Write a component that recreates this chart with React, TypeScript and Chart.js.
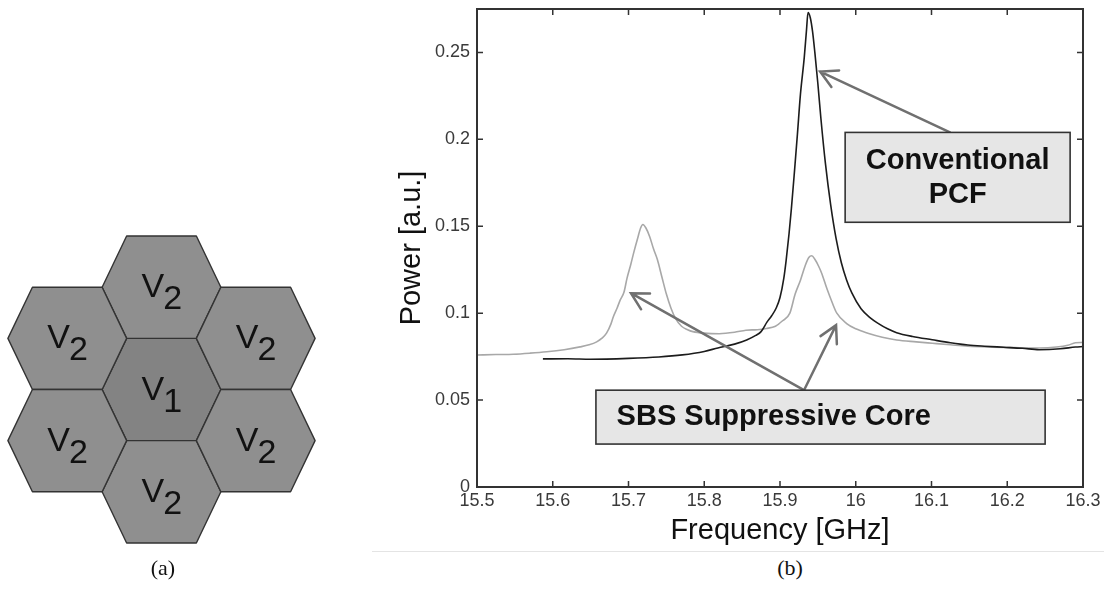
import React, { useEffect, useRef } from 'react';
import { Chart, registerables } from 'chart.js';

Chart.register(...registerables);

// ---------- data: panel (b) spectra ----------
const freqConventional = [
  15.587, 15.62, 15.65, 15.7, 15.74, 15.771, 15.8, 15.818, 15.84, 15.856, 15.868, 15.875,
  15.883, 15.889, 15.895, 15.9, 15.905, 15.908, 15.912, 15.915, 15.919, 15.923, 15.927,
  15.932, 15.935, 15.937, 15.94, 15.943, 15.946, 15.95, 15.954, 15.96, 15.967, 15.974,
  15.981, 15.988, 15.995, 16.007, 16.02, 16.03, 16.042, 16.054, 16.075, 16.101, 16.125,
  16.148, 16.17, 16.195, 16.22, 16.242, 16.27, 16.29, 16.3,
];
const powerConventional = [
  0.0737, 0.0738, 0.0735, 0.074, 0.0748, 0.076, 0.078, 0.08, 0.0822, 0.0846, 0.0872, 0.0894,
  0.095, 0.0985, 0.103, 0.109, 0.12, 0.13, 0.146, 0.16, 0.181, 0.203, 0.226,
  0.247, 0.263, 0.273, 0.27, 0.262, 0.25, 0.232, 0.212, 0.186, 0.162, 0.143,
  0.129, 0.119, 0.1115, 0.1025, 0.097, 0.094, 0.091, 0.0888, 0.0866, 0.0847, 0.083,
  0.0817, 0.081, 0.0804, 0.0798, 0.079, 0.0795, 0.0805, 0.0808,
];
const freqSuppressive = [
  15.5, 15.525, 15.548, 15.57, 15.592, 15.615, 15.636, 15.648, 15.658, 15.665, 15.671,
  15.677, 15.68, 15.685, 15.689, 15.694, 15.698, 15.703, 15.707, 15.712, 15.716, 15.719,
  15.723, 15.728, 15.733, 15.738, 15.744, 15.75, 15.756, 15.762, 15.77, 15.778, 15.785,
  15.8, 15.82, 15.84, 15.855, 15.87, 15.882, 15.894, 15.903, 15.913, 15.92, 15.927,
  15.933, 15.938, 15.942, 15.946, 15.951, 15.955, 15.962, 15.969, 15.975, 15.988, 16.0,
  16.016, 16.035, 16.054, 16.08, 16.101, 16.125, 16.148, 16.18, 16.21, 16.242, 16.265,
  16.28, 16.29, 16.3,
];
const powerSuppressive = [
  0.0759, 0.0762, 0.0764, 0.077, 0.0778, 0.079, 0.0806, 0.0818, 0.0835, 0.0856, 0.0885,
  0.094, 0.098, 0.103, 0.1075, 0.112, 0.12, 0.128, 0.135, 0.143, 0.149, 0.151,
  0.149, 0.144, 0.137, 0.131, 0.121, 0.111, 0.103, 0.097, 0.0925, 0.0905, 0.0894,
  0.0885, 0.0882, 0.089, 0.0902, 0.0905, 0.0912, 0.0925, 0.0955, 0.1, 0.111, 0.119,
  0.127, 0.132, 0.133, 0.131, 0.127, 0.123, 0.114, 0.106, 0.1, 0.094, 0.091,
  0.0885, 0.0862, 0.0846, 0.0835, 0.0827, 0.0818, 0.081, 0.0805, 0.0802, 0.08, 0.0805,
  0.0815, 0.083, 0.0832,
];
const frequencyTicks = [15.5, 15.6, 15.7, 15.8, 15.9, 16.0, 16.1, 16.2, 16.3];
const powerTicks = [0, 0.05, 0.1, 0.15, 0.2, 0.25];

// ---------- data: panel (a) hexagonal cells ----------
const hexColumn = [0, 0, 0, -1, -1, 1, 1];
const hexRow = [0, 1, -1, 0.5, -0.5, 0.5, -0.5];
const hexSymbol = ['V', 'V', 'V', 'V', 'V', 'V', 'V'];
const hexIndex = ['1', '2', '2', '2', '2', '2', '2'];

// ---------- annotations (data units) ----------
const conventionalBox = { x0: 15.986, x1: 16.283, y0: 0.1523, y1: 0.204 };
const conventionalText = ['Conventional', 'PCF'];
const conventionalTextY = [0.1874, 0.1678];
const conventionalArrow = { x0: 16.1244, y0: 0.204, x1: 15.953, y1: 0.239 };
const suppressiveBox = { x0: 15.657, x1: 16.25, y0: 0.0247, y1: 0.0557 };
const suppressiveText = 'SBS Suppressive Core';
const suppressiveTextPos = { x: 15.6843, y: 0.0402 };
const suppressiveArrows = [
  { x0: 15.9317, y0: 0.0557, x1: 15.7033, y1: 0.1115 },
  { x0: 15.9317, y0: 0.0557, x1: 15.974, y1: 0.0931 },
];

const SANS = '"Liberation Sans", Arial, Helvetica, sans-serif';
const SERIF = '"Liberation Serif", "Times New Roman", Times, serif';

function drawArrow(ctx: CanvasRenderingContext2D, x0: number, y0: number, x1: number, y1: number) {
  const ang = Math.atan2(y1 - y0, x1 - x0);
  const L = 19;
  const spread = 0.5;
  ctx.beginPath();
  ctx.moveTo(x0, y0);
  ctx.lineTo(x1, y1);
  ctx.moveTo(x1 - L * Math.cos(ang - spread), y1 - L * Math.sin(ang - spread));
  ctx.lineTo(x1, y1);
  ctx.lineTo(x1 - L * Math.cos(ang + spread), y1 - L * Math.sin(ang + spread));
  ctx.stroke();
}

const framePlugin = {
  id: 'matlabFrame',
  afterDatasetsDraw(chart: any) {
    const { ctx, chartArea: a } = chart;
    const x = chart.scales.x;
    const y = chart.scales.y;
    ctx.save();
    ctx.strokeStyle = '#333';
    ctx.lineWidth = 1.5;
    ctx.beginPath();
    frequencyTicks.forEach((v) => {
      const px = x.getPixelForValue(v);
      ctx.moveTo(px, a.bottom);
      ctx.lineTo(px, a.bottom - 6);
      ctx.moveTo(px, a.top);
      ctx.lineTo(px, a.top + 6);
    });
    powerTicks.forEach((v) => {
      const py = y.getPixelForValue(v);
      ctx.moveTo(a.left, py);
      ctx.lineTo(a.left + 6, py);
      ctx.moveTo(a.right, py);
      ctx.lineTo(a.right - 6, py);
    });
    ctx.stroke();
    ctx.lineWidth = 2;
    ctx.strokeRect(a.left, a.top, a.right - a.left, a.bottom - a.top);

    ctx.strokeStyle = '#707070';
    ctx.lineWidth = 2.5;
    ctx.lineCap = 'round';
    [conventionalArrow, ...suppressiveArrows].forEach((ar) => {
      drawArrow(
        ctx,
        x.getPixelForValue(ar.x0), y.getPixelForValue(ar.y0),
        x.getPixelForValue(ar.x1), y.getPixelForValue(ar.y1),
      );
    });

    const drawBox = (b: any) => {
      const l = x.getPixelForValue(b.x0);
      const r = x.getPixelForValue(b.x1);
      const t = y.getPixelForValue(b.y1);
      const bt = y.getPixelForValue(b.y0);
      ctx.fillStyle = '#e6e6e6';
      ctx.fillRect(l, t, r - l, bt - t);
      ctx.strokeStyle = '#333';
      ctx.lineWidth = 1.6;
      ctx.strokeRect(l, t, r - l, bt - t);
    };
    drawBox(conventionalBox);
    drawBox(suppressiveBox);

    ctx.fillStyle = '#111';
    ctx.font = `bold 29px ${SANS}`;
    ctx.textBaseline = 'middle';
    ctx.textAlign = 'center';
    const cx = x.getPixelForValue((conventionalBox.x0 + conventionalBox.x1) / 2);
    conventionalText.forEach((t, i) => {
      ctx.fillText(t, cx, y.getPixelForValue(conventionalTextY[i]));
    });
    ctx.textAlign = 'left';
    ctx.fillText(
      suppressiveText,
      x.getPixelForValue(suppressiveTextPos.x),
      y.getPixelForValue(suppressiveTextPos.y),
    );
    ctx.restore();
  },
};

const HA = 0.63;
const HB = 0.37;

const hexPlugin = {
  id: 'hexCells',
  afterDatasetsDraw(chart: any) {
    const { ctx } = chart;
    const x = chart.scales.x;
    const y = chart.scales.y;
    ctx.save();
    hexColumn.forEach((c, i) => {
      const r = hexRow[i];
      const verts = [
        [c + HA, r], [c + HB, r + 0.5], [c - HB, r + 0.5],
        [c - HA, r], [c - HB, r - 0.5], [c + HB, r - 0.5],
      ];
      ctx.beginPath();
      verts.forEach(([vx, vy], k) => {
        const px = x.getPixelForValue(vx);
        const py = y.getPixelForValue(vy);
        if (k === 0) ctx.moveTo(px, py);
        else ctx.lineTo(px, py);
      });
      ctx.closePath();
      ctx.fillStyle = hexIndex[i] === '1' ? '#838383' : '#8f8f8f';
      ctx.fill();
      ctx.strokeStyle = '#333';
      ctx.lineWidth = 1.4;
      ctx.lineJoin = 'round';
      ctx.stroke();
    });
    ctx.fillStyle = '#111';
    ctx.font = `34px ${SANS}`;
    ctx.textBaseline = 'alphabetic';
    ctx.textAlign = 'left';
    hexColumn.forEach((c, i) => {
      const px = x.getPixelForValue(c);
      const py = y.getPixelForValue(hexRow[i]);
      const left = px - 20;
      ctx.fillText(hexSymbol[i], left, py + 10);
      ctx.fillText(hexIndex[i], left + ctx.measureText(hexSymbol[i]).width - 1, py + 22);
    });
    ctx.restore();
  },
};

function SpectrumChart() {
  const ref = useRef<HTMLCanvasElement>(null);
  useEffect(() => {
    if (!ref.current) return;
    const chart = new Chart(ref.current, {
      type: 'line',
      data: {
        datasets: [
          {
            label: 'Conventional PCF',
            data: freqConventional.map((f, i) => ({ x: f, y: powerConventional[i] })),
            borderColor: '#1c1c1c',
            borderWidth: 1.6,
            pointRadius: 0,
            cubicInterpolationMode: 'monotone',
          },
          {
            label: 'SBS Suppressive Core',
            data: freqSuppressive.map((f, i) => ({ x: f, y: powerSuppressive[i] })),
            borderColor: '#a8a8a8',
            borderWidth: 1.6,
            pointRadius: 0,
            cubicInterpolationMode: 'monotone',
          },
        ],
      },
      options: {
        animation: false,
        responsive: true,
        maintainAspectRatio: false,
        events: [],
        layout: { padding: { left: 0, right: 21, top: 9, bottom: 0 } },
        plugins: { legend: { display: false }, tooltip: { enabled: false } },
        scales: {
          x: {
            type: 'linear',
            min: 15.5,
            max: 16.3,
            afterBuildTicks: (s: any) => {
              s.ticks = frequencyTicks.map((v) => ({ value: v }));
            },
            afterFit: (s: any) => {
              s.height = 64;
              s.paddingLeft = 0;
              s.paddingRight = 0;
            },
            grid: { display: false, drawTicks: false },
            border: { display: false },
            ticks: {
              padding: 3,
              maxRotation: 0,
              autoSkip: false,
              color: '#3a3a3a',
              font: { family: SANS, size: 18 },
              callback: (v: any) => String(Math.round(Number(v) * 10) / 10),
            },
            title: {
              display: true,
              text: 'Frequency [GHz]',
              color: '#111',
              font: { family: SANS, size: 29 },
              padding: { top: 0, bottom: 3 },
            },
          },
          y: {
            type: 'linear',
            min: 0,
            max: 0.275,
            afterBuildTicks: (s: any) => {
              s.ticks = powerTicks.map((v) => ({ value: v }));
            },
            afterFit: (s: any) => {
              s.width = 105;
              s.paddingTop = 0;
              s.paddingBottom = 0;
            },
            grid: { display: false, drawTicks: false },
            border: { display: false },
            ticks: {
              padding: 7,
              autoSkip: false,
              color: '#3a3a3a',
              font: { family: SANS, size: 18 },
              callback: (v: any) => String(Math.round(Number(v) * 100) / 100),
            },
            title: {
              display: true,
              text: 'Power [a.u.]',
              color: '#111',
              font: { family: SANS, size: 29 },
              padding: { top: 22.6, bottom: 0 },
            },
          },
        },
      },
      plugins: [framePlugin],
    } as any);
    return () => chart.destroy();
  }, []);
  return <canvas ref={ref} />;
}

function HexChart() {
  const ref = useRef<HTMLCanvasElement>(null);
  useEffect(() => {
    if (!ref.current) return;
    const chart = new Chart(ref.current, {
      type: 'scatter',
      data: {
        datasets: [
          {
            label: 'cells',
            data: hexColumn.map((c, i) => ({ x: c, y: hexRow[i] })),
            pointRadius: 0,
            showLine: false,
          },
        ],
      },
      options: {
        animation: false,
        responsive: true,
        maintainAspectRatio: false,
        events: [],
        layout: { padding: 0 },
        plugins: { legend: { display: false }, tooltip: { enabled: false } },
        scales: {
          x: { type: 'linear', display: false, min: -1.714, max: 1.714 },
          y: { type: 'linear', display: false, min: -1.657, max: 1.657 },
        },
      },
      plugins: [hexPlugin],
    } as any);
    return () => chart.destroy();
  }, []);
  return <canvas ref={ref} />;
}

export default function App() {
  const caption: React.CSSProperties = {
    position: 'absolute',
    width: 80,
    textAlign: 'center',
    fontFamily: SERIF,
    fontSize: 22,
    lineHeight: '24px',
    color: '#111',
    top: 556,
  };
  return (
    <div style={{ position: 'fixed', left: 0, top: 0, width: 1104, height: 599, background: '#fff', overflow: 'hidden' }}>
      <div style={{ position: 'absolute', left: 0, top: 220, width: 323, height: 339 }}>
        <HexChart />
      </div>
      <div style={{ position: 'absolute', left: 372, top: 0, width: 732, height: 551, borderBottom: '1px solid #e4e4e4' }}>
        <SpectrumChart />
      </div>
      <div style={{ ...caption, left: 163 - 40 }}>(a)</div>
      <div style={{ ...caption, left: 790 - 40 }}>(b)</div>
    </div>
  );
}
